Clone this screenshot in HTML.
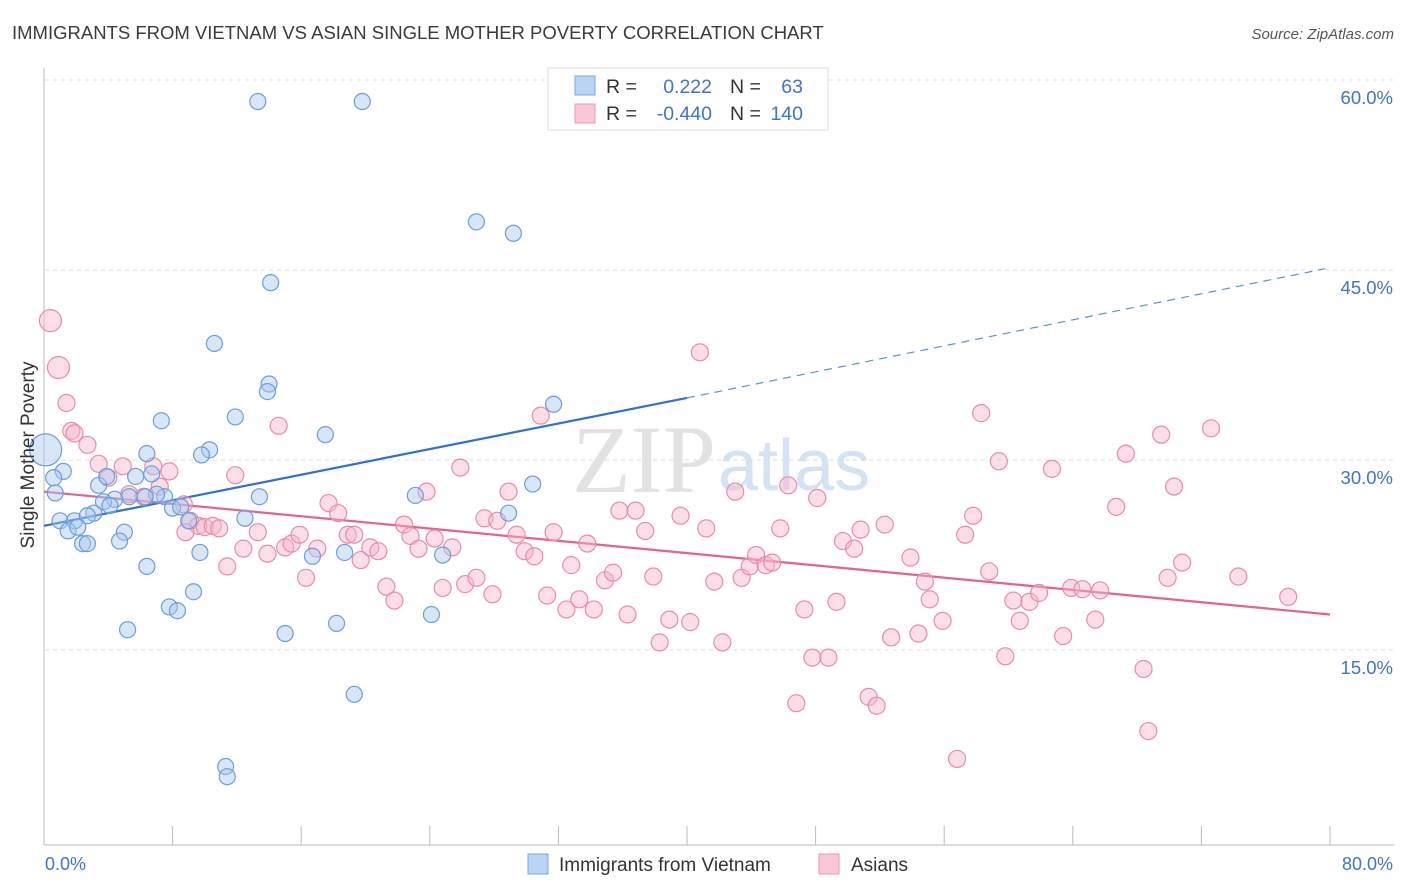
<!DOCTYPE html>
<html><head><meta charset="utf-8"><style>
body{margin:0;background:#fff;font-family:"Liberation Sans",sans-serif}
svg{display:block}
</style></head><body>
<svg id="chart" width="1406" height="892" xmlns="http://www.w3.org/2000/svg">
<text x="12" y="39" font-size="18.5" fill="#3a3a3a">IMMIGRANTS FROM VIETNAM VS ASIAN SINGLE MOTHER POVERTY CORRELATION CHART</text>
<text x="1394" y="39" font-size="15" fill="#555" font-style="italic" text-anchor="end">Source: ZipAtlas.com</text>
<text x="716" y="492" font-size="96" fill="#e2e2e2" text-anchor="end" font-family="Liberation Serif,serif">ZIP</text>
<text x="718" y="490" font-size="72" fill="#d3e2f4">atlas</text>
<g id="grid"></g>
<g id="axes"></g>
<g id="trends"></g>
<g id="points"></g>
<text transform="translate(34,455) rotate(-90)" font-size="19" fill="#333" text-anchor="middle">Single Mother Poverty</text>
<text x="45" y="870" font-size="18" fill="#3d74d0">0.0%</text>
<text x="1393" y="870" font-size="18" fill="#3d74d0" text-anchor="end">80.0%</text>
<g>
<rect x="548" y="68" width="280" height="62" fill="#fff" stroke="#ddd"/>
<rect x="575" y="76" width="20" height="19" fill="#b9d4f5" stroke="#7aa7e3"/>
<rect x="575" y="104" width="20" height="19" fill="#fac7d6" stroke="#ec97b3"/>
<text x="606" y="93" font-size="19.5" fill="#333">R =</text>
<text x="712" y="93" font-size="19.5" fill="#3d74d0" text-anchor="end">0.222</text>
<text x="730" y="93" font-size="19.5" fill="#333">N =</text>
<text x="803" y="93" font-size="19.5" fill="#3d74d0" text-anchor="end">63</text>
<text x="606" y="120" font-size="19.5" fill="#333">R =</text>
<text x="712" y="120" font-size="19.5" fill="#3d74d0" text-anchor="end">-0.440</text>
<text x="730" y="120" font-size="19.5" fill="#333">N =</text>
<text x="803" y="120" font-size="19.5" fill="#3d74d0" text-anchor="end">140</text>
</g>
<g>
<rect x="528" y="854" width="20" height="20" fill="#b9d4f5" stroke="#7aa7e3"/>
<text x="559" y="871" font-size="19" fill="#333">Immigrants from Vietnam</text>
</g>
<g>
<rect x="819" y="854" width="20" height="20" fill="#fac7d6" stroke="#ec97b3"/>
<text x="851" y="871" font-size="19" fill="#333">Asians</text>
</g>
</svg>
<script>
const yTicks=[15,30,45,60];
const yTickLabels=["15.0%","30.0%","45.0%","60.0%"];
const blueX=[13.3,19.8,26.9,29.2,14.1,10.6,14.0,13.9,31.7,7.3,11.9,17.5,6.4,10.3,9.8,1.2,0.6,0.7,3.4,3.9,5.7,6.7,7.5,7.0,5.3,6.3,4.4,3.7,4.1,8.0,8.5,9.0,30.4,23.1,13.4,12.5,1.0,1.9,3.1,2.7,1.5,2.1,5.0,4.7,2.4,2.7,9.7,6.4,18.7,16.7,24.8,28.9,9.3,7.8,8.3,5.2,15.0,18.2,24.1,19.3,11.3,11.4];
const blueY=[58.3,58.3,48.8,47.9,44.0,39.2,36.0,35.4,34.4,33.1,33.4,32.0,30.5,30.8,30.4,29.1,28.6,27.4,28.0,28.7,28.7,28.9,27.1,27.3,27.1,27.1,26.9,26.7,26.4,26.2,26.3,25.2,28.1,27.2,27.1,25.4,25.2,25.2,25.8,25.6,24.4,24.7,24.3,23.6,23.4,23.4,22.7,21.6,22.7,22.4,22.5,25.8,19.6,18.4,18.1,16.6,16.3,17.1,17.8,11.5,5.8,5.0];
const blueBigX=[0.1], blueBigY=[30.8];
const pinkX=[1.4,1.7,1.9,2.7,3.4,4.9,6.8,7.8,4.0,5.3,6.2,7.2,8.7,9.1,9.6,8.8,10.0,10.5,10.9,11.4,11.9,12.4,13.3,13.9,14.6,15.0,15.4,15.9,16.3,17.0,17.7,18.3,18.9,19.3,19.7,20.3,20.8,21.3,21.8,22.4,22.8,23.3,23.8,24.3,24.8,25.4,25.9,26.2,26.9,27.4,27.9,28.2,28.9,29.4,29.9,30.5,30.9,31.3,31.7,32.5,32.8,33.3,33.8,34.2,34.9,35.4,35.8,36.3,36.8,37.4,37.9,38.3,38.9,39.6,40.2,40.8,41.2,41.7,42.2,43.0,43.4,43.9,44.3,44.9,45.3,45.8,46.3,46.8,47.3,47.8,48.1,48.8,49.3,49.7,50.4,50.8,51.3,51.8,52.3,52.7,53.9,54.4,54.8,55.1,55.9,56.8,57.3,57.8,58.3,58.8,59.4,59.8,60.3,60.7,61.3,61.9,62.7,63.4,63.9,64.6,65.4,65.7,66.7,67.3,68.4,68.7,69.5,69.9,70.3,70.8,72.6,74.3,77.4];
const pinkY=[34.5,32.3,32.1,31.2,29.7,29.5,29.5,29.1,28.6,27.3,27.1,27.9,26.5,25.2,24.8,24.3,24.7,24.8,24.6,21.6,28.8,23.0,24.3,22.6,32.7,23.1,23.4,24.1,20.7,23.0,26.6,25.8,24.1,24.1,22.1,23.1,22.8,20.0,18.9,24.9,24.0,23.0,27.5,23.8,19.9,23.1,29.4,20.2,20.7,25.4,19.4,25.2,27.5,24.1,22.8,22.4,33.5,19.3,24.3,18.2,21.7,19.0,23.4,18.2,20.5,21.1,26.0,17.8,26.0,24.4,20.8,15.6,17.4,25.6,17.2,38.5,24.6,20.4,15.6,27.5,20.7,21.6,22.5,21.7,21.9,24.6,28.0,10.8,18.2,14.4,27.0,14.4,18.8,23.6,23.0,24.5,11.3,10.6,24.9,16.0,22.3,16.3,20.4,19.0,17.3,6.4,24.1,25.6,33.7,21.2,29.9,14.5,18.9,17.3,18.8,19.5,29.3,16.1,19.9,19.8,17.4,19.7,26.3,30.5,13.5,8.6,32.0,20.7,27.9,21.9,32.5,20.8,19.2];
const pinkBigX=[0.4,0.9], pinkBigY=[41.0,37.3];
const blueTrendX=[0,40,79.7], blueTrendY=[24.8,34.9,45.1];
const pinkTrendX=[0,80], pinkTrendY=[27.5,17.8];

const X0=44,X1=1330,Y0=840;
function sx(v){return X0+(X1-X0)*v/80;}
function sy(v){return Y0-v*12.667;}
const NS="http://www.w3.org/2000/svg";
function mk(tag,attrs,parent){const e=document.createElementNS(NS,tag);for(const k in attrs)e.setAttribute(k,attrs[k]);parent.appendChild(e);return e;}
const grid=document.getElementById('grid');
yTicks.forEach((t,i)=>{
  const l=mk('line',{x1:45,x2:1394,y1:sy(t),y2:sy(t),stroke:'#ddd','stroke-dasharray':'4,4'},grid);
  
  
  const tx=mk('text',{x:1393,y:sy(t)+24,'font-size':18.5,fill:'#3d74d0','text-anchor':'end'},grid);
  tx.textContent=yTickLabels[i];
  
  
});
const axes=document.getElementById('axes');
const ax=mk('line',{x1:44,x2:1394,y1:845,y2:845,stroke:'#bbb'},axes);


const ay=mk('line',{x1:44,x2:44,y1:68,y2:845,stroke:'#bbb'},axes);


for(let i=1;i<=10;i++){
  const tk=mk('line',{x1:sx(i*8),x2:sx(i*8),y1:826,y2:845,stroke:'#bbb'},axes);
  
  
}
const tr=document.getElementById('trends');
const b1=mk('line',{x1:sx(blueTrendX[0]),y1:sy(blueTrendY[0]),x2:sx(blueTrendX[1]),y2:sy(blueTrendY[1]),stroke:'#2f6fd6','stroke-width':2.2},tr);


const b2=mk('line',{x1:sx(blueTrendX[1]),y1:sy(blueTrendY[1]),x2:sx(blueTrendX[2]),y2:sy(blueTrendY[2]),stroke:'#5b8fdf','stroke-width':1.2,'stroke-dasharray':'8,6'},tr);


const p1=mk('line',{x1:sx(pinkTrendX[0]),y1:sy(pinkTrendY[0]),x2:sx(pinkTrendX[1]),y2:sy(pinkTrendY[1]),stroke:'#e3628f','stroke-width':2.2},tr);


const pts=document.getElementById('points');
function dots(xs,ys,r,fill,stroke,name){
  xs.forEach((x,i)=>{
    const c=mk('circle',{cx:sx(x),cy:sy(ys[i]),r:r,fill:fill,'fill-opacity':0.45,stroke:stroke,'stroke-width':1.2},pts);
    
    
  });
}
dots(pinkX,pinkY,8.5,'#f8b6ca','#ea8bab','point-asians');
dots(pinkBigX,pinkBigY,11,'#f8b6ca','#ea8bab','point-asians');
dots(blueX,blueY,8,'#a9c8f0','#6a9de0','point-vietnam');
dots(blueBigX,blueBigY,16,'#a9c8f0','#6a9de0','point-vietnam');
</script>
</body></html>
